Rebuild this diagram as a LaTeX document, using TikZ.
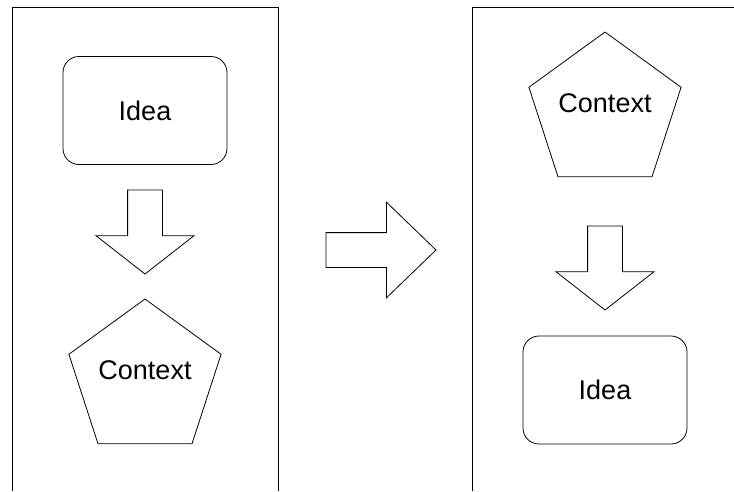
\documentclass[tikz,border=0pt]{standalone}
\usepackage{fontspec}
\setmainfont{Liberation Sans}
\usetikzlibrary{positioning,shapes.geometric,shapes.arrows,calc}

\begin{document}
\begin{tikzpicture}[
  x=1pt, y=-1pt,
  font=\fontsize{27}{31}\selectfont,
  panel/.style={draw, line width=1pt},
  ideabox/.style={
    draw, rounded corners=16pt,
    minimum width=164pt, minimum height=108pt,
    line width=0.8pt, inner sep=0pt
  },
  ctxshape/.style={
    draw, regular polygon, regular polygon sides=5,
    minimum size=160pt, inner sep=0pt, outer sep=0pt,
    line width=0.8pt
  },
  lbl/.style={inner sep=0pt},
  blockarrow/.style={
    draw, single arrow, inner sep=17pt, outer sep=0pt,
    line width=0.8pt
  },
  downarrow/.style={
    blockarrow, shape border rotate=270,
    minimum height=84pt, minimum width=97pt,
    single arrow head extend=31.5pt,
    single arrow tip angle=104
  },
]
\useasboundingbox (0,0) rectangle (734,491);

% Two panels, open at the bottom.
\draw[panel] (12,491) |- (278,7) -- (278,491);
\draw[panel] (472,491) |- (734,7);

% Left panel: idea first, then context.
\node[ideabox] (ideaL) at (145,110.5) {Idea};
\node[downarrow, anchor=tail] (downL) at (145,190) {};
\node[ctxshape] (ctxL) at (145,379) {};
\node[lbl] (ctxLtext) at (145,370.5) {Context};

% Big arrow between the panels.
\node[blockarrow, anchor=tail,
  minimum height=110pt, minimum width=95pt,
  single arrow head extend=30.5pt,
  single arrow tip angle=88] (swap) at (326,250) {};

% Right panel: context first, then idea.
\node[ctxshape] (ctxR) at (605,112) {};
\node[lbl] (ctxRtext) at (605,103.5) {Context};
\node[downarrow, anchor=tail] (downR) at (605,226) {};
\node[ideabox] (ideaR) at (605,390) {Idea};

\end{tikzpicture}
\end{document}
